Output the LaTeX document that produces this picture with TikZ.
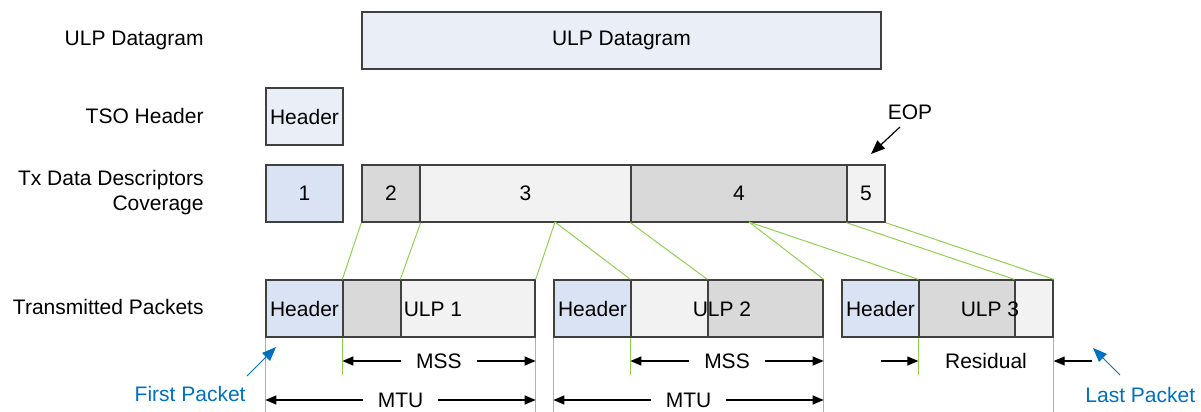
\documentclass[tikz,border=0pt]{standalone}
\usepackage{fontspec}
\setmainfont{Liberation Sans}
\usetikzlibrary{arrows.meta,fit}
\definecolor{bord}{HTML}{404040}
\definecolor{ulpfill}{HTML}{E9EEF7}
\definecolor{hdrfill}{HTML}{DAE3F3}
\definecolor{grayfill}{HTML}{D9D9D9}
\definecolor{lightfill}{HTML}{F2F2F2}
\definecolor{greenln}{HTML}{92D050}
\definecolor{bluetxt}{HTML}{0070C0}
\begin{document}
\begin{tikzpicture}[x=0.5pt,y=-0.5pt,
  font=\fontsize{10.5pt}{12.5pt}\selectfont,
  box/.style={draw=bord, line width=0.65pt, inner sep=0pt, text=black},
  hdrbox/.style={box, fill=hdrfill},
  graybox/.style={box, fill=grayfill},
  lightbox/.style={box, fill=lightfill},
  boxtext/.style={label={[inner sep=0pt, anchor=center]center:#1}},
  rowlabel/.style={anchor=east, inner sep=0pt, align=right},
  txt/.style={inner sep=0pt},
  mapline/.style={draw=greenln, line width=0.5pt},
  guide/.style={draw=greenln, line width=0.6pt},
  dimarrow/.style={line width=0.6pt, -{Triangle[length=5.5pt,width=4.5pt]}},
  dimboth/.style={line width=0.6pt, {Triangle[length=5.5pt,width=4.5pt]}-{Triangle[length=5.5pt,width=4.5pt]}},
  dimlabel/.style={fill=white, inner xsep=7.5pt, inner ysep=1pt},
  bluearrow/.style={draw=bluetxt, line width=0.5pt, -{Triangle[length=7pt,width=5.5pt]}},
]
\path[use as bounding box] (0,0) rectangle (1201,412);

% row labels
\node[rowlabel] (lab1) at (204,40) {ULP Datagram};
\node[rowlabel] (lab2) at (204,116) {TSO Header};
\node[rowlabel] (lab3) at (204,192.5) {Tx Data Descriptors\\Coverage};
\node[rowlabel] (lab4) at (204,307) {Transmitted Packets};

% ULP datagram
\node[box, fill=ulpfill, fit={(362,12) (881,69)}, boxtext={ULP Datagram}] (ulp) {};
% TSO header
\node[box, fill=ulpfill, fit={(266,88) (343,145)}, boxtext=Header] (tso) {};

% descriptors
\node[hdrbox, fit={(266,165) (343,222)}, boxtext=1] (d1) {};
\node[graybox, fit={(362,165) (420,222)}, boxtext=2] (d2) {};
\node[lightbox, fit={(420,165) (631,222)}, boxtext=3] (d3) {};
\node[graybox, fit={(631,165) (847,222)}, boxtext=4] (d4) {};
\node[lightbox, fit={(847,165) (885,222)}, boxtext=5] (d5) {};

% EOP
\node[txt] (eop) at (910,112) {EOP};
\coordinate (eopa) at (900,127);
\coordinate (eopt) at (871,154);
\draw[line width=0.6pt, -{Triangle[length=7pt,width=5.5pt]}] (eopa) -- (eopt);

% packets
\node[hdrbox, fit={(266,280) (343,337)}, boxtext=Header] (p1h) {};
\node[graybox, fit={(343,280) (401,337)}] (p1g) {};
\node[lightbox, fit={(401,280) (535,337)}] (p1l) {};
\node[txt] (ulp1) at (433,309) {ULP 1};

\node[hdrbox, fit={(554,280) (631,337)}, boxtext=Header] (p2h) {};
\node[lightbox, fit={(631,280) (708,337)}] (p2l) {};
\node[graybox, fit={(708,280) (823,337)}] (p2g) {};
\node[txt] (ulp2) at (722,309) {ULP 2};

\node[hdrbox, fit={(842,280) (919,337)}, boxtext=Header] (p3h) {};
\node[graybox, fit={(919,280) (1015,337)}] (p3g) {};
\node[lightbox, fit={(1015,280) (1053,337)}] (p3l) {};
\node[txt] (ulp3) at (990,309) {ULP 3};

% mapping lines
\coordinate (d3s) at (555,222);
\coordinate (d4s) at (749,222);
\draw[mapline] (d2.south west) -- (p1g.north west);
\draw[mapline] (d2.south east) -- (p1l.north west);
\draw[mapline] (d3s) -- (p1l.north east);
\draw[mapline] (d3s) -- (p2l.north west);
\draw[mapline] (d4.south west) -- (p2g.north west);
\draw[mapline] (d4s) -- (p2g.north east);
\draw[mapline] (d4s) -- (p3g.north west);
\draw[mapline] (d5.south west) -- (p3l.north west);
\draw[mapline] (d5.south east) -- (p3l.north east);

% guide lines
\coordinate (bot) at (0,412);
\coordinate (mid) at (0,375);
\draw[guide] (p1h.south west) -- (p1h.south west |- bot);
\draw[guide] (p1g.south west) -- (p1g.south west |- mid);
\draw[guide] (p1l.south east) -- (p1l.south east |- bot);
\draw[guide] (p2h.south west) -- (p2h.south west |- bot);
\draw[guide] (p2l.south west) -- (p2l.south west |- mid);
\draw[guide] (p2g.south east) -- (p2g.south east |- bot);
\draw[guide] (p3g.south west) -- (p3g.south west |- mid);
\draw[guide] (p3l.south east) -- (p3l.south east |- bot);

% dimension arrows
\coordinate (mssy) at (0,361);
\coordinate (mtuy) at (0,400);
\draw[dimboth] (p1g.south west |- mssy) -- node[dimlabel] (mss1) {MSS} (p1l.south east |- mssy);
\draw[dimboth] (p2l.south west |- mssy) -- node[dimlabel] (mss2) {MSS} (p2g.south east |- mssy);
\draw[dimboth] (p1h.south west |- mtuy) -- node[dimlabel] (mtu1) {MTU} (p1l.south east |- mtuy);
\draw[dimboth] (p2h.south west |- mtuy) -- node[dimlabel] (mtu2) {MTU} (p2g.south east |- mtuy);

\node[txt] (resid) at (986,361) {Residual};
\coordinate (resl) at (881,361);
\coordinate (resr) at (1092,361);
\draw[dimarrow] (resl) -- (p3g.south west |- mssy);
\draw[dimarrow] (resr) -- (p3l.south east |- mssy);

% first / last packet
\node[txt, text=bluetxt, anchor=east] (fp) at (246,394) {First Packet};
\coordinate (fpa) at (247,376);
\coordinate (fpt) at (276,347);
\draw[bluearrow] (fpa) -- (fpt);

\node[txt, text=bluetxt, anchor=west] (lp) at (1085,395) {Last Packet};
\coordinate (lpa) at (1120,375);
\coordinate (lpt) at (1093,348);
\draw[bluearrow] (lpa) -- (lpt);
\end{tikzpicture}
\end{document}
